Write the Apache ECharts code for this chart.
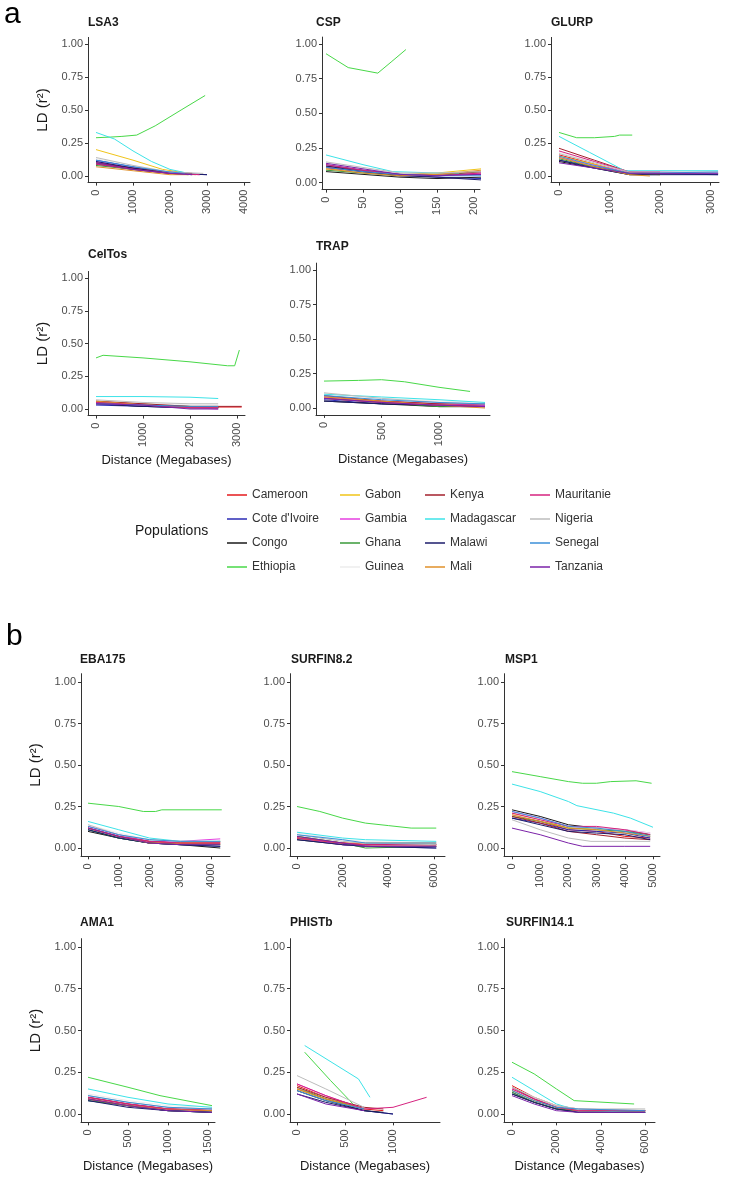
<!DOCTYPE html>
<html><head><meta charset="utf-8">
<script src="https://cdn.jsdelivr.net/npm/echarts@6/dist/echarts.min.js"></script>
<style>html,body{margin:0;padding:0;background:#fff}#c{width:730px;height:1181px}</style>
</head><body><div id="c"></div>
<script>
// ---------- DATA ----------
const POPULATIONS = ['Cameroon','Cote d\'Ivoire','Congo','Ethiopia','Gabon','Gambia','Ghana','Guinea','Kenya','Madagascar','Malawi','Mali','Mauritanie','Nigeria','Senegal','Tanzania'];
const PANEL_NAMES = ['LSA3','CSP','GLURP','CelTos','TRAP','EBA175','SURFIN8.2','MSP1','AMA1','PHISTb','SURFIN14.1'];
const Y_TICKS = [0, 0.25, 0.5, 0.75, 1];

const LSA3_TICKS = [0,1000,2000,3000,4000];
const LSA3 = [
 ['Cameroon',[[0,0.10],[1000,0.06],[2000,0.02],[2700,0.01]]],
 ['Cote d\'Ivoire',[[0,0.12],[1000,0.07],[2000,0.02],[3000,0.01]]],
 ['Congo',[[0,0.09],[1000,0.05],[2000,0.02],[2600,0.01]]],
 ['Ethiopia',[[0,0.29],[400,0.295],[700,0.30],[1100,0.31],[1600,0.38],[2300,0.50],[2950,0.61]]],
 ['Gabon',[[0,0.20],[1000,0.12],[1800,0.05],[2500,0.02]]],
 ['Gambia',[[0,0.11],[1000,0.06],[2000,0.02],[2800,0.01]]],
 ['Ghana',[[0,0.08],[1000,0.05],[2000,0.02],[2500,0.01]]],
 ['Guinea',[[0,0.13],[1000,0.08],[2000,0.03],[2800,0.01]]],
 ['Kenya',[[0,0.10],[1000,0.06],[2000,0.03],[2600,0.02]]],
 ['Madagascar',[[0,0.33],[500,0.28],[1000,0.19],[1500,0.11],[2000,0.05],[2500,0.02]]],
 ['Malawi',[[0,0.11],[1000,0.06],[2000,0.02],[3000,0.01]]],
 ['Mali',[[0,0.07],[1000,0.04],[2000,0.01],[2500,0.01]]],
 ['Mauritanie',[[0,0.09],[1000,0.05],[2000,0.02],[2800,0.01]]],
 ['Nigeria',[[0,0.14],[1000,0.08],[2000,0.03],[2900,0.02]]],
 ['Senegal',[[0,0.12],[1000,0.07],[2000,0.03],[2400,0.02]]],
 ['Tanzania',[[0,0.10],[1000,0.05],[2000,0.02],[2600,0.01]]]
];

const CSP_TICKS = [0,50,100,150,200];
const CSP = [
 ['Cameroon',[[0,0.12],[50,0.09],[100,0.06],[150,0.05],[210,0.06]]],
 ['Cote d\'Ivoire',[[0,0.13],[50,0.09],[100,0.06],[150,0.04],[210,0.03]]],
 ['Congo',[[0,0.08],[50,0.06],[100,0.04],[150,0.03],[210,0.04]]],
 ['Ethiopia',[[0,0.93],[15,0.88],[30,0.83],[50,0.81],[70,0.79],[88,0.87],[108,0.96]]],
 ['Gabon',[[0,0.10],[50,0.08],[100,0.06],[150,0.07],[210,0.10]]],
 ['Gambia',[[0,0.11],[50,0.08],[100,0.05],[150,0.05],[210,0.07]]],
 ['Ghana',[[0,0.09],[50,0.07],[100,0.05],[150,0.05],[210,0.08]]],
 ['Guinea',[[0,0.14],[50,0.10],[100,0.07],[150,0.05],[210,0.05]]],
 ['Kenya',[[0,0.11],[50,0.08],[100,0.06],[150,0.06],[210,0.08]]],
 ['Madagascar',[[0,0.20],[50,0.13],[90,0.08],[150,0.07],[180,0.07]]],
 ['Malawi',[[0,0.12],[50,0.08],[100,0.05],[150,0.04],[210,0.02]]],
 ['Mali',[[0,0.10],[50,0.07],[100,0.05],[150,0.06],[210,0.09]]],
 ['Mauritanie',[[0,0.13],[50,0.09],[100,0.06],[150,0.05],[210,0.07]]],
 ['Nigeria',[[0,0.15],[50,0.11],[100,0.07],[150,0.07],[210,0.08]]],
 ['Senegal',[[0,0.11],[50,0.08],[100,0.06],[150,0.05],[210,0.05]]],
 ['Tanzania',[[0,0.14],[50,0.10],[100,0.06],[150,0.05],[210,0.06]]]
];

const GLURP_TICKS = [0,1000,2000,3000];
const GLURP = [
 ['Cameroon',[[0,0.16],[700,0.09],[1400,0.02],[3150,0.02]]],
 ['Cote d\'Ivoire',[[0,0.12],[700,0.07],[1400,0.02],[3150,0.01]]],
 ['Congo',[[0,0.11],[700,0.06],[1400,0.01],[2000,0.01]]],
 ['Ethiopia',[[0,0.33],[350,0.29],[700,0.29],[1100,0.30],[1200,0.31],[1450,0.31]]],
 ['Gabon',[[0,0.15],[700,0.09],[1400,0.02],[2000,0.01]]],
 ['Gambia',[[0,0.14],[700,0.08],[1400,0.03],[2000,0.03],[3150,0.02]]],
 ['Ghana',[[0,0.13],[700,0.07],[1400,0.02],[2000,0.02]]],
 ['Guinea',[[0,0.18],[700,0.10],[1400,0.03],[3150,0.02]]],
 ['Kenya',[[0,0.21],[700,0.12],[1400,0.03],[2000,0.02]]],
 ['Madagascar',[[0,0.30],[600,0.18],[1300,0.04],[3150,0.04]]],
 ['Malawi',[[0,0.12],[700,0.06],[1400,0.01],[3150,0.01]]],
 ['Mali',[[0,0.14],[700,0.07],[1400,0.01],[1800,0.00]]],
 ['Mauritanie',[[0,0.19],[700,0.11],[1400,0.03],[2000,0.03]]],
 ['Nigeria',[[0,0.17],[700,0.10],[1400,0.03],[3150,0.03]]],
 ['Senegal',[[0,0.15],[700,0.08],[1400,0.02],[3150,0.03]]],
 ['Tanzania',[[0,0.10],[700,0.06],[1400,0.02],[3150,0.02]]]
];

const CELTOS_TICKS = [0,1000,2000,3000];
const CELTOS = [
 ['Cameroon',[[0,0.05],[1000,0.03],[2000,0.015],[3100,0.015]]],
 ['Cote d\'Ivoire',[[0,0.03],[1000,0.02],[2000,0.01],[2600,0.01]]],
 ['Congo',[[0,0.04],[1000,0.02],[2000,0.01],[2600,0.01]]],
 ['Ethiopia',[[0,0.39],[150,0.41],[1000,0.39],[2000,0.36],[2800,0.33],[2950,0.33],[3050,0.45]]],
 ['Gabon',[[0,0.05],[1000,0.04],[2000,0.02],[2600,0.02]]],
 ['Gambia',[[0,0.04],[1000,0.03],[2000,0.01],[2600,0.00]]],
 ['Ghana',[[0,0.05],[1000,0.03],[2000,0.02],[2600,0.01]]],
 ['Guinea',[[0,0.06],[1000,0.04],[2000,0.03],[2600,0.03]]],
 ['Kenya',[[0,0.06],[1000,0.04],[2000,0.02],[3100,0.02]]],
 ['Madagascar',[[0,0.095],[1000,0.095],[2000,0.09],[2600,0.08]]],
 ['Malawi',[[0,0.04],[1000,0.02],[2000,0.01],[2600,0.01]]],
 ['Mali',[[0,0.06],[1000,0.03],[2000,0.01],[2600,0.01]]],
 ['Mauritanie',[[0,0.05],[1000,0.03],[2000,0.01],[2600,0.01]]],
 ['Nigeria',[[0,0.07],[1000,0.05],[2000,0.04],[2600,0.04]]],
 ['Senegal',[[0,0.04],[1000,0.03],[2000,0.02],[2600,0.02]]],
 ['Tanzania',[[0,0.04],[1000,0.03],[2000,0.00],[2600,0.00]]]
];

const TRAP_TICKS = [0,500,1000];
const TRAP = [
 ['Cameroon',[[0,0.07],[500,0.04],[1000,0.02],[1400,0.02]]],
 ['Cote d\'Ivoire',[[0,0.06],[500,0.03],[1000,0.02],[1400,0.02]]],
 ['Congo',[[0,0.05],[500,0.03],[1000,0.01],[1400,0.01]]],
 ['Ethiopia',[[0,0.195],[300,0.20],[500,0.205],[700,0.19],[1000,0.15],[1270,0.12]]],
 ['Gabon',[[0,0.08],[500,0.05],[1000,0.03],[1400,0.01]]],
 ['Gambia',[[0,0.08],[500,0.05],[1000,0.03],[1400,0.02]]],
 ['Ghana',[[0,0.07],[500,0.04],[1000,0.01],[1400,0.01]]],
 ['Guinea',[[0,0.10],[500,0.07],[1000,0.05],[1400,0.04]]],
 ['Kenya',[[0,0.09],[500,0.05],[1000,0.03],[1400,0.03]]],
 ['Madagascar',[[0,0.10],[500,0.08],[1000,0.06],[1400,0.04]]],
 ['Malawi',[[0,0.05],[500,0.03],[1000,0.02],[1400,0.01]]],
 ['Mali',[[0,0.08],[500,0.05],[1000,0.02],[1400,0.00]]],
 ['Mauritanie',[[0,0.07],[500,0.04],[1000,0.02],[1400,0.01]]],
 ['Nigeria',[[0,0.11],[500,0.07],[1000,0.04],[1400,0.03]]],
 ['Senegal',[[0,0.09],[500,0.06],[1000,0.04],[1400,0.03]]],
 ['Tanzania',[[0,0.07],[500,0.04],[1000,0.02],[1400,0.01]]]
];

const EBA175_TICKS = [0,1000,2000,3000,4000];
const EBA175 = [
 ['Cameroon',[[0,0.12],[1000,0.07],[2000,0.03],[3000,0.03],[4300,0.03]]],
 ['Cote d\'Ivoire',[[0,0.11],[1000,0.06],[2000,0.03],[3000,0.02],[4300,0.01]]],
 ['Congo',[[0,0.10],[1000,0.06],[2000,0.03],[3000,0.02],[4300,0.00]]],
 ['Ethiopia',[[0,0.27],[1000,0.25],[1800,0.22],[2200,0.22],[2400,0.23],[4350,0.23]]],
 ['Gabon',[[0,0.12],[1000,0.07],[2000,0.04],[3000,0.03],[4300,0.02]]],
 ['Gambia',[[0,0.13],[1000,0.08],[2000,0.04],[3000,0.04],[4300,0.055]]],
 ['Ghana',[[0,0.11],[1000,0.06],[2000,0.03],[3000,0.02],[4300,0.02]]],
 ['Guinea',[[0,0.14],[1000,0.09],[2000,0.05],[3000,0.04],[4300,0.04]]],
 ['Kenya',[[0,0.12],[1000,0.07],[2000,0.04],[3000,0.03],[4300,0.03]]],
 ['Madagascar',[[0,0.16],[1000,0.11],[2000,0.06],[3000,0.04],[4300,0.04]]],
 ['Malawi',[[0,0.11],[1000,0.06],[2000,0.03],[3000,0.02],[4300,0.01]]],
 ['Mali',[[0,0.12],[1000,0.07],[2000,0.03],[3000,0.03],[4300,0.04]]],
 ['Mauritanie',[[0,0.12],[1000,0.07],[2000,0.04],[3000,0.03],[4300,0.03]]],
 ['Nigeria',[[0,0.14],[1000,0.08],[2000,0.05],[3000,0.04],[4300,0.04]]],
 ['Senegal',[[0,0.13],[1000,0.08],[2000,0.05],[3000,0.04],[4300,0.04]]],
 ['Tanzania',[[0,0.12],[1000,0.07],[2000,0.03],[3000,0.02],[4300,0.02]]]
];

const SURFIN82_TICKS = [0,2000,4000,6000];
const SURFIN82 = [
 ['Cameroon',[[0,0.06],[2000,0.03],[3000,0.02],[6100,0.02]]],
 ['Cote d\'Ivoire',[[0,0.06],[2000,0.02],[3000,0.01],[6100,0.00]]],
 ['Congo',[[0,0.05],[2000,0.02],[3000,0.01],[6100,0.01]]],
 ['Ethiopia',[[0,0.25],[1000,0.22],[2000,0.18],[3000,0.15],[4000,0.135],[5000,0.12],[6100,0.12]]],
 ['Gabon',[[0,0.07],[2000,0.03],[3000,0.01],[6100,0.01]]],
 ['Gambia',[[0,0.06],[2000,0.02],[3000,0.01],[6100,0.01]]],
 ['Ghana',[[0,0.07],[2000,0.03],[3000,0.00],[6100,0.01]]],
 ['Guinea',[[0,0.09],[2000,0.05],[3000,0.04],[6100,0.03]]],
 ['Kenya',[[0,0.06],[2000,0.03],[3000,0.02],[6100,0.02]]],
 ['Madagascar',[[0,0.095],[2000,0.06],[3000,0.05],[6100,0.04]]],
 ['Malawi',[[0,0.05],[2000,0.02],[3000,0.01],[6100,0.00]]],
 ['Mali',[[0,0.06],[2000,0.03],[3000,0.03],[6100,0.03]]],
 ['Mauritanie',[[0,0.06],[2000,0.03],[3000,0.02],[6100,0.02]]],
 ['Nigeria',[[0,0.08],[2000,0.04],[3000,0.03],[6100,0.02]]],
 ['Senegal',[[0,0.08],[2000,0.05],[3000,0.03],[6100,0.03]]],
 ['Tanzania',[[0,0.07],[2000,0.03],[3000,0.01],[6100,0.01]]]
];

const MSP1_TICKS = [0,1000,2000,3000,4000,5000];
const MSP1 = [
 ['Cameroon',[[0,0.20],[1000,0.16],[2000,0.11],[3000,0.10],[4000,0.07],[4900,0.06]]],
 ['Cote d\'Ivoire',[[0,0.18],[1000,0.15],[2000,0.11],[3000,0.10],[4000,0.09],[4900,0.06]]],
 ['Congo',[[0,0.23],[1000,0.19],[2000,0.14],[3000,0.12],[4000,0.11],[4900,0.08]]],
 ['Ethiopia',[[0,0.46],[1000,0.43],[2000,0.40],[2500,0.39],[3000,0.39],[3500,0.40],[4400,0.405],[4950,0.39]]],
 ['Gabon',[[0,0.21],[1000,0.17],[2000,0.12],[3000,0.12],[4000,0.10],[4900,0.07]]],
 ['Gambia',[[0,0.22],[1000,0.18],[2000,0.13],[3000,0.12],[4000,0.11],[4900,0.09]]],
 ['Ghana',[[0,0.19],[1000,0.16],[2000,0.12],[3000,0.11],[4000,0.10],[4900,0.08]]],
 ['Guinea',[[0,0.20],[1000,0.17],[2000,0.13],[3000,0.12],[4000,0.11],[4900,0.09]]],
 ['Kenya',[[0,0.19],[1000,0.15],[2000,0.10],[3000,0.08],[4000,0.06],[4900,0.05]]],
 ['Madagascar',[[0,0.385],[1000,0.34],[2000,0.28],[2300,0.255],[3600,0.21],[4200,0.18],[5000,0.125]]],
 ['Malawi',[[0,0.18],[1000,0.14],[2000,0.10],[3000,0.09],[4000,0.08],[4900,0.05]]],
 ['Mali',[[0,0.20],[1000,0.16],[2000,0.12],[3000,0.11],[4000,0.09],[4900,0.07]]],
 ['Mauritanie',[[0,0.21],[1000,0.17],[2000,0.13],[3000,0.13],[4000,0.11],[4900,0.08]]],
 ['Nigeria',[[0,0.17],[1000,0.11],[2000,0.06],[2800,0.04],[4000,0.04],[4900,0.04]]],
 ['Senegal',[[0,0.22],[1000,0.18],[2000,0.13],[3000,0.12],[4000,0.10],[4900,0.07]]],
 ['Tanzania',[[0,0.12],[1000,0.08],[2000,0.03],[2500,0.01],[4000,0.01],[4900,0.01]]]
];

const AMA1_TICKS = [0,500,1000,1500];
const AMA1 = [
 ['Cameroon',[[0,0.09],[500,0.05],[1000,0.03],[1550,0.02]]],
 ['Cote d\'Ivoire',[[0,0.08],[500,0.05],[1000,0.02],[1550,0.01]]],
 ['Congo',[[0,0.09],[500,0.05],[1000,0.02],[1550,0.01]]],
 ['Ethiopia',[[0,0.22],[500,0.16],[900,0.11],[1550,0.05]]],
 ['Gabon',[[0,0.10],[500,0.06],[1000,0.03],[1550,0.02]]],
 ['Gambia',[[0,0.10],[500,0.06],[1000,0.03],[1550,0.02]]],
 ['Ghana',[[0,0.08],[500,0.05],[1000,0.02],[1550,0.01]]],
 ['Guinea',[[0,0.12],[500,0.08],[1000,0.05],[1550,0.04]]],
 ['Kenya',[[0,0.10],[500,0.06],[1000,0.03],[1550,0.02]]],
 ['Madagascar',[[0,0.15],[500,0.10],[1000,0.06],[1550,0.04]]],
 ['Malawi',[[0,0.08],[500,0.04],[1000,0.02],[1550,0.01]]],
 ['Mali',[[0,0.09],[500,0.05],[1000,0.03],[1550,0.02]]],
 ['Mauritanie',[[0,0.10],[500,0.06],[1000,0.03],[1550,0.03]]],
 ['Nigeria',[[0,0.11],[500,0.07],[1000,0.04],[1550,0.03]]],
 ['Senegal',[[0,0.11],[500,0.07],[1000,0.04],[1550,0.03]]],
 ['Tanzania',[[0,0.09],[500,0.05],[1000,0.02],[1550,0.01]]]
];

const PHISTB_TICKS = [0,500,1000];
const PHISTB = [
 ['Cameroon',[[0,0.17],[300,0.10],[700,0.03],[900,0.02]]],
 ['Cote d\'Ivoire',[[0,0.15],[300,0.09],[700,0.02],[1000,0.00]]],
 ['Congo',[[0,0.14],[300,0.08],[700,0.02],[900,0.01]]],
 ['Ethiopia',[[80,0.37],[350,0.20],[600,0.05],[700,0.03]]],
 ['Gabon',[[0,0.15],[300,0.09],[700,0.03]]],
 ['Gambia',[[0,0.18],[300,0.11],[700,0.03]]],
 ['Ghana',[[0,0.16],[300,0.09],[700,0.03]]],
 ['Guinea',[[0,0.16],[300,0.10],[700,0.04]]],
 ['Kenya',[[0,0.16],[300,0.10],[700,0.04],[900,0.03]]],
 ['Madagascar',[[80,0.41],[640,0.21],[760,0.10]]],
 ['Malawi',[[0,0.12],[300,0.07],[700,0.02],[1000,0.00]]],
 ['Mali',[[0,0.15],[300,0.09],[700,0.03]]],
 ['Mauritanie',[[0,0.18],[300,0.11],[700,0.03],[1000,0.04],[1350,0.10]]],
 ['Nigeria',[[0,0.23],[300,0.15],[700,0.04]]],
 ['Senegal',[[0,0.14],[300,0.08],[700,0.03]]],
 ['Tanzania',[[0,0.12],[300,0.06],[700,0.02]]]
];

const SURFIN141_TICKS = [0,2000,4000,6000];
const SURFIN141 = [
 ['Cameroon',[[0,0.17],[1000,0.10],[2000,0.05],[3000,0.03],[6000,0.02]]],
 ['Cote d\'Ivoire',[[0,0.13],[1000,0.07],[2000,0.03],[3000,0.02],[6000,0.01]]],
 ['Congo',[[0,0.12],[1000,0.07],[2000,0.03],[3000,0.01],[6000,0.01]]],
 ['Ethiopia',[[0,0.31],[1000,0.24],[2000,0.15],[2800,0.08],[5500,0.06]]],
 ['Gabon',[[0,0.14],[1000,0.08],[2000,0.04],[3000,0.02],[6000,0.02]]],
 ['Gambia',[[0,0.15],[1000,0.09],[2000,0.04],[3000,0.02],[6000,0.02]]],
 ['Ghana',[[0,0.13],[1000,0.07],[2000,0.03],[3000,0.02],[6000,0.01]]],
 ['Guinea',[[0,0.16],[1000,0.10],[2000,0.05],[3000,0.03],[6000,0.03]]],
 ['Kenya',[[0,0.16],[1000,0.09],[2000,0.04],[3000,0.02],[6000,0.02]]],
 ['Madagascar',[[0,0.22],[1000,0.14],[2000,0.06],[3000,0.02],[6000,0.01]]],
 ['Malawi',[[0,0.12],[1000,0.07],[2000,0.03],[3000,0.01],[6000,0.01]]],
 ['Mali',[[0,0.14],[1000,0.08],[2000,0.04],[3000,0.02],[6000,0.02]]],
 ['Mauritanie',[[0,0.15],[1000,0.09],[2000,0.04],[3000,0.02],[6000,0.02]]],
 ['Nigeria',[[0,0.16],[1000,0.10],[2000,0.05],[3000,0.03],[6000,0.03]]],
 ['Senegal',[[0,0.14],[1000,0.08],[2000,0.04],[3000,0.03],[6000,0.02]]],
 ['Tanzania',[[0,0.11],[1000,0.06],[2000,0.02],[3000,0.01],[6000,0.01]]]
];

// ---------- STYLE / LAYOUT ----------
const COLORS = {
 'Cameroon':'#e41a1c','Cote d\'Ivoire':'#2b2bb5','Congo':'#1a1a1a','Ethiopia':'#48d848',
 'Gabon':'#f0c419','Gambia':'#e63fe0','Ghana':'#3a9a3a','Guinea':'#ececec',
 'Kenya':'#a3202c','Madagascar':'#3de3e8','Malawi':'#1d1d6b','Mali':'#e0902a',
 'Mauritanie':'#d6237f','Nigeria':'#bdbdbd','Senegal':'#3b8fd9','Tanzania':'#7b22a8'
};
const PANEL_DATA = [LSA3, CSP, GLURP, CELTOS, TRAP, EBA175, SURFIN82, MSP1, AMA1, PHISTB, SURFIN141];
const PANEL_TICKS = [LSA3_TICKS, CSP_TICKS, GLURP_TICKS, CELTOS_TICKS, TRAP_TICKS, EBA175_TICKS, SURFIN82_TICKS, MSP1_TICKS, AMA1_TICKS, PHISTB_TICKS, SURFIN141_TICKS];
const LAYOUT = [
 {left:88, right:250, x0:96, ppu:0.037, y1:44, y0:176, tx:88, ty:17, yName:true, xName:false},
 {left:322, right:480, x0:326, ppu:0.74, y1:44, y0:182.7, tx:316, ty:17, yName:false, xName:false},
 {left:551, right:719, x0:559, ppu:0.0505, y1:44, y0:176, tx:551, ty:17, yName:false, xName:false},
 {left:88, right:245, x0:96, ppu:0.047, y1:278, y0:409, tx:88, ty:249, yName:true, xName:true},
 {left:316, right:490, x0:324, ppu:0.115, y1:270, y0:408, tx:316, ty:241, yName:false, xName:true},
 {left:81, right:230, x0:88, ppu:0.03075, y1:682, y0:848, tx:80, ty:654, yName:true, xName:false},
 {left:290, right:445, x0:297, ppu:0.02283, y1:682, y0:848, tx:291, ty:654, yName:false, xName:false},
 {left:504, right:660, x0:512, ppu:0.0282, y1:682, y0:848, tx:505, ty:654, yName:false, xName:false},
 {left:81, right:215, x0:88, ppu:0.08, y1:947, y0:1114, tx:80, ty:917, yName:true, xName:true},
 {left:290, right:440, x0:297, ppu:0.096, y1:947, y0:1114, tx:290, ty:917, yName:false, xName:true},
 {left:504, right:655, x0:512, ppu:0.0222, y1:947, y0:1114, tx:506, ty:917, yName:false, xName:true}
];
const FONT = '"Liberation Sans", Arial, sans-serif';
const AX = '#333333', TXT = '#4d4d4d';

const grids = [], xAxes = [], yAxes = [], titles = [], series = [];
LAYOUT.forEach((L, i) => {
  const h = L.y0 - L.y1;
  const top = L.y1 - 0.05 * h;
  grids.push({left: L.left, top: top, width: L.right - L.left, height: 1.1 * h});
  const xmin = -(L.x0 - L.left) / L.ppu;
  const xmax = xmin + (L.right - L.left) / L.ppu;
  const ticks = PANEL_TICKS[i];
  xAxes.push({
    type:'value', gridIndex:i, min:xmin, max:xmax,
    axisLine:{show:true, onZero:false, lineStyle:{color:AX, width:1}},
    axisTick:{show:true, length:3, customValues:ticks, lineStyle:{color:AX}},
    axisLabel:{show:true, rotate:90, margin:7, customValues:ticks, color:TXT, fontSize:11, fontFamily:FONT, formatter:v=>String(v)},
    splitLine:{show:false},
    name: L.xName ? 'Distance (Megabases)' : '',
    nameLocation:'middle', nameGap:38,
    nameTextStyle:{color:'#1a1a1a', fontSize:13, fontFamily:FONT}
  });
  yAxes.push({
    type:'value', gridIndex:i, min:-0.05, max:1.05,
    axisLine:{show:true, onZero:false, lineStyle:{color:AX, width:1}},
    axisTick:{show:true, length:3, customValues:Y_TICKS, lineStyle:{color:AX}},
    axisLabel:{show:true, margin:5, customValues:Y_TICKS, color:TXT, fontSize:11, fontFamily:FONT, formatter:v=>v.toFixed(2)},
    splitLine:{show:false},
    name: L.yName ? 'LD (r\u00B2)' : '',
    nameLocation:'middle', nameGap:38, nameRotate:90,
    nameTextStyle:{color:'#1a1a1a', fontSize:15, fontFamily:FONT}
  });
  titles.push({text:PANEL_NAMES[i], left:L.tx, top:L.ty, padding:0,
    textStyle:{fontSize:12, fontWeight:'bold', color:'#1a1a1a', fontFamily:FONT}});
  PANEL_DATA[i].forEach(([pop, pts]) => {
    series.push({
      type:'line', name:pop, xAxisIndex:i, yAxisIndex:i, data:pts,
      showSymbol:false, symbol:'none', silent:true, animation:false,
      lineStyle:{color:COLORS[pop], width:1}, itemStyle:{color:COLORS[pop]}
    });
  });
});

const legendCols = [227, 340, 425, 530];
const legends = legendCols.map((x, c) => ({
  orient:'vertical', left:x, top:488, padding:0, itemGap:10, itemWidth:20, itemHeight:1.5,
  icon:'rect', selectedMode:false,
  data: POPULATIONS.slice(c*4, c*4+4),
  textStyle:{color:'#333', fontSize:12, fontFamily:FONT, lineHeight:14, padding:[0,0,0,0]}
}));

const chart = echarts.init(document.getElementById('c'), null, {renderer:'canvas'});
chart.setOption({
  backgroundColor:'#fff',
  animation:false,
  title: titles,
  grid: grids, xAxis: xAxes, yAxis: yAxes,
  legend: legends,
  series: series,
  graphic:[
    {type:'text', left:4, top:0, style:{text:'a', fontSize:30, fontFamily:FONT, fill:'#000'}},
    {type:'text', left:6, top:622, style:{text:'b', fontSize:30, fontFamily:FONT, fill:'#000'}},
    {type:'text', left:135, top:524, style:{text:'Populations', fontSize:14, fontFamily:FONT, fill:'#1a1a1a'}}
  ]
});
</script></body></html>
